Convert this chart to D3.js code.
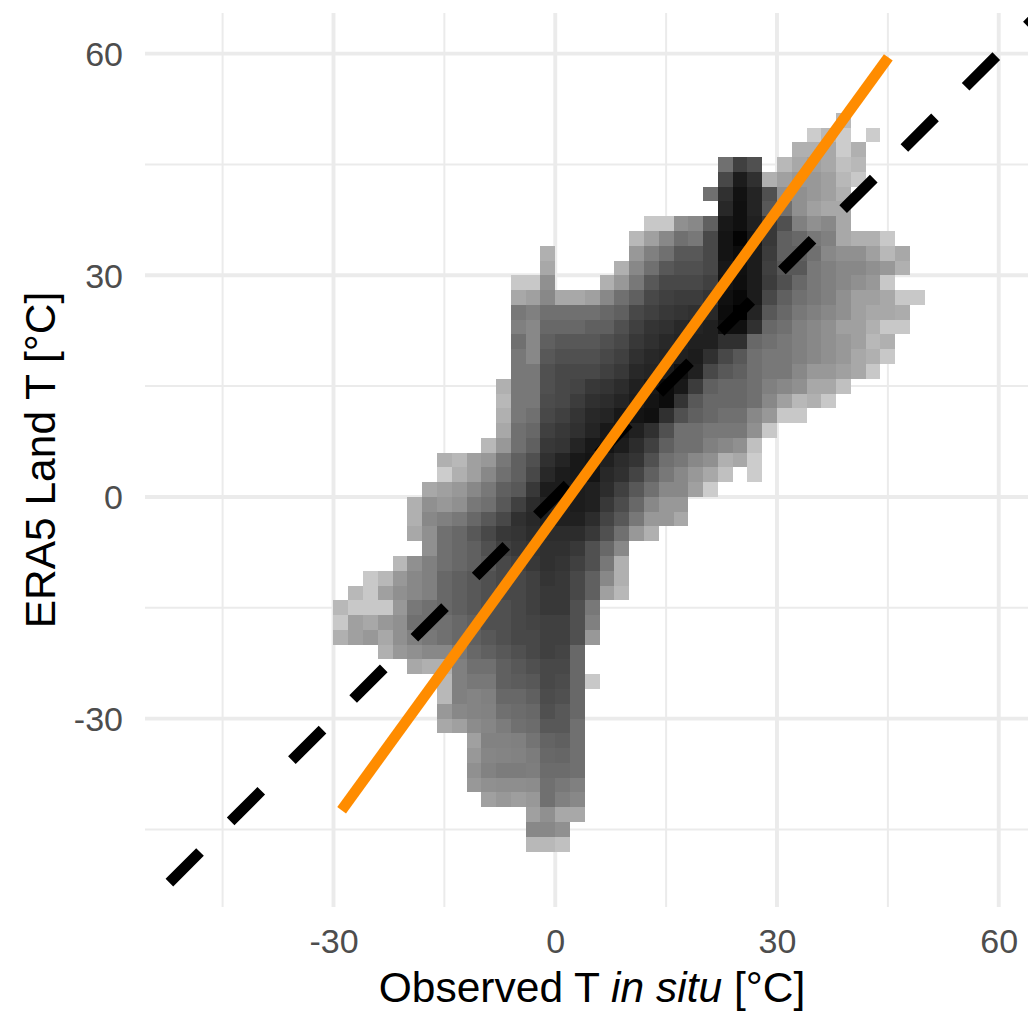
<!DOCTYPE html>
<html>
<head>
<meta charset="utf-8">
<script src="https://cdn.jsdelivr.net/npm/d3@7"></script>
<style>
html,body{margin:0;padding:0;background:#fff;overflow:hidden}
svg{display:block}
text{font-family:"Liberation Sans",Arial,sans-serif}
</style>
</head>
<body>
<svg id="chart" width="1028" height="1011"></svg>
<script>
// Shared axis data
const axisLimits = [-55.5, 65.5];
const majorTicks = [-30, 0, 30, 60];
const minorX = [-45, -15, 15, 45];
const minorY = [-45, -15, 15, 45];
const xTitleParts = [["Observed T ", "normal"], ["in situ", "italic"], [" [°C]", "normal"]];
const yTitle = "ERA5 Land T [°C]";

// Lines
const oneToOne = [[-52.2, -52.2], [70, 70]];
const fitLine = [[-28.9, -42.4], [45.06, 59.5]];

// Heatmap: bin width in degrees, top edge of each row, first bin's left edge, grey level per bin
const binSize = 2;
const rowTop = [52,50,48,46,44,42,40,38,36,34,32,30,28,26,24,22,20,18,16,14,12,10,8,6,4,2,0,-2,-4,-6,-8,-10,-12,-14,-16,-18,-20,-22,-24,-26,-28,-30,-32,-34,-36,-38,-40,-42,-44,-46];
const rowStart = [38,34,32,22,22,20,22,12,10,-2,-2,-6,-6,-6,-6,-6,-6,-6,-8,-8,-8,-8,-10,-16,-16,-18,-20,-20,-20,-18,-22,-26,-28,-30,-30,-30,-24,-20,-16,-16,-16,-16,-12,-12,-12,-12,-10,-4,-4,-4];
const rowLevels = [
[184],
[204,184,204,null,204],
[176,176,168,204,176],
[112,64,80,null,184,168,160,168,192,184],
[72,28,48,176,160,152,152,160,184,200],
[112,48,18,36,80,144,144,152,160,176],
[40,16,36,88,112,144,160,168,168],
[200,200,144,136,96,24,16,32,56,80,128,144,136,168],
[184,160,136,112,120,72,20,4,24,56,96,104,120,128,168,176,176,200],
[176,null,null,null,null,null,152,128,112,88,88,72,20,12,28,60,96,96,112,136,144,144,160,184,168],
[168,null,null,null,null,176,136,112,88,80,80,72,24,16,28,64,88,88,120,128,136,136,144,152,176],
[200,200,144,null,null,null,176,152,120,88,72,72,72,64,20,14,28,60,80,104,120,128,136,144,152,200],
[168,160,136,168,168,160,136,112,96,72,64,60,60,52,16,8,28,72,96,112,120,128,144,160,160,168,200,200],
[120,128,112,112,112,112,104,96,72,64,56,52,48,40,12,0,36,88,104,120,128,136,144,160,168,168,172],
[128,136,104,104,104,96,96,80,64,52,48,40,36,32,16,16,48,104,112,128,136,144,160,160,176,200,200],
[112,136,96,88,88,88,80,72,56,48,40,36,32,32,48,48,104,112,120,128,136,144,152,160,184,176],
[120,136,88,80,80,80,72,64,48,40,36,32,28,48,72,88,112,120,120,128,136,144,152,168,176,200],
[120,120,80,72,72,72,64,56,40,36,28,16,32,72,88,96,112,120,120,136,152,152,160,168,200],
[176,120,120,80,72,68,56,52,44,32,24,12,24,60,96,104,104,112,128,136,144,168,168,192],
[184,120,120,76,72,60,48,44,36,28,20,12,52,88,104,104,104,112,136,160,184,176,200],
[176,120,112,72,64,52,40,36,24,20,16,48,80,96,104,112,112,136,152,200,200],
[168,112,104,64,56,48,36,24,20,32,48,80,112,112,120,120,120,144,200],
[184,152,112,96,56,52,36,24,20,28,44,64,96,112,112,128,136,144,192],
[176,184,160,152,120,96,80,48,36,24,20,32,44,52,80,112,120,136,144,176,168,204],
[204,176,160,136,112,96,72,40,28,24,20,40,48,68,96,120,136,152,168,192,null,204],
[168,160,152,136,120,96,88,56,28,28,28,32,44,64,88,112,136,136,160,204],
[176,144,152,144,120,112,88,64,44,36,32,28,32,56,76,104,136,152,152],
[176,136,128,120,104,88,72,48,40,32,32,32,44,68,88,120,152,152,168],
[168,144,112,104,88,72,56,52,44,44,44,44,56,80,112,152,176],
[144,112,104,96,80,64,56,52,48,48,56,80,104,136],
[184,144,128,112,104,96,88,72,64,56,48,52,64,80,120,176],
[200,184,152,136,128,104,96,88,80,72,72,64,52,56,72,96,136,176],
[184,200,160,144,136,128,104,96,88,80,72,72,64,56,56,72,96,160,184],
[184,200,200,200,152,120,112,104,96,88,80,80,72,64,56,56,80,120],
[200,160,168,152,144,112,112,112,104,96,80,80,72,68,64,64,80,128],
[176,160,152,168,144,128,120,112,104,96,88,80,72,72,64,64,80,152],
[176,152,144,136,136,120,104,96,88,80,72,64,68,104],
[168,176,176,128,112,112,96,88,80,72,72,104],
[184,128,120,120,96,92,88,72,76,104,200],
[184,128,132,128,104,104,96,76,80,104],
[152,136,132,130,112,108,104,80,88,104],
[168,160,140,134,124,112,108,88,88,112],
[160,130,130,128,116,100,96,112],
[152,134,132,130,124,104,102,112],
[144,130,124,124,126,108,108,112],
[152,144,142,142,140,112,120,128],
[160,152,158,152,112,128,136],
[160,144,168,168],
[136,136,144],
[184,184,192]
];

const x = d3.scaleLinear().domain(axisLimits).range([145, 1039.4]);
const y = d3.scaleLinear().domain(axisLimits).range([907, 13]);
const shade = d3.scaleLinear().domain([0, 255]).range(["#000000", "#ffffff"]);

const svg = d3.select("#chart");
const gridColor = "#ebebeb";

// Grid
const grid = svg.append("g");
grid.selectAll(".mx").data(minorX).join("line")
  .attr("x1", d => x(d)).attr("x2", d => x(d)).attr("y1", y.range()[0]).attr("y2", y.range()[1])
  .attr("stroke", gridColor).attr("stroke-width", 2);
grid.selectAll(".my").data(minorY).join("line")
  .attr("y1", d => y(d)).attr("y2", d => y(d)).attr("x1", x.range()[0]).attr("x2", x.range()[1])
  .attr("stroke", gridColor).attr("stroke-width", 2);
grid.selectAll(".Mx").data(majorTicks).join("line")
  .attr("x1", d => x(d)).attr("x2", d => x(d)).attr("y1", y.range()[0]).attr("y2", y.range()[1])
  .attr("stroke", gridColor).attr("stroke-width", 3.9);
grid.selectAll(".My").data(majorTicks).join("line")
  .attr("y1", d => y(d)).attr("y2", d => y(d)).attr("x1", x.range()[0]).attr("x2", x.range()[1])
  .attr("stroke", gridColor).attr("stroke-width", 3.9);

// Heatmap
const cells = [];
rowLevels.forEach((levels, r) => levels.forEach((level, c) => {
  if (level !== null) cells.push({left: rowStart[r] + c * binSize, top: rowTop[r], level});
}));
svg.append("g").attr("shape-rendering", "crispEdges")
  .selectAll("rect").data(cells).join("rect")
  .attr("x", d => x(d.left))
  .attr("y", d => y(d.top))
  .attr("width", d => x(d.left + binSize) - x(d.left))
  .attr("height", d => y(d.top - binSize) - y(d.top))
  .attr("fill", d => shade(d.level));

// Lines
const line = d3.line().x(d => x(d[0])).y(d => y(d[1]));
svg.append("path").attr("d", line(oneToOne)).attr("fill", "none")
  .attr("stroke", "#000").attr("stroke-width", 10.8).attr("stroke-dasharray", "43.3 43.3");
svg.append("path").attr("d", line(fitLine)).attr("fill", "none")
  .attr("stroke", "#ff8c00").attr("stroke-width", 10.8);

// Axes
const tickFont = 34;
const xAxis = svg.append("g").attr("transform", "translate(0,953)")
  .call(d3.axisBottom(x).tickValues(majorTicks).tickSize(0).tickPadding(0).tickFormat(d => String(d)));
const yAxis = svg.append("g").attr("transform", "translate(123,0)")
  .call(d3.axisLeft(y).tickValues(majorTicks).tickSize(0).tickPadding(0).tickFormat(d => String(d)));
[xAxis, yAxis].forEach(a => {
  a.select(".domain").remove();
  a.selectAll("text").attr("fill", "#4d4d4d").style("font-size", tickFont + "px")
    .style("font-family", '"Liberation Sans",Arial,sans-serif');
});
xAxis.selectAll("text").attr("y", 0).attr("dy", 0);
yAxis.selectAll("text").attr("x", 0).attr("dy", "0.35em");

// Titles
const xt = svg.append("text").attr("x", 592).attr("y", 1002).attr("text-anchor", "middle")
  .attr("fill", "#000").style("font-size", "42.5px");
xTitleParts.forEach(p => xt.append("tspan").text(p[0]).style("font-style", p[1]));
svg.append("text").attr("transform", "translate(55,460) rotate(-90)").attr("text-anchor", "middle")
  .attr("fill", "#000").style("font-size", "42.5px").text(yTitle);
</script>
</body>
</html>
